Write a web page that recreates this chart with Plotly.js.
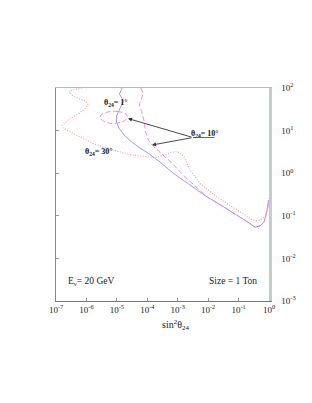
<!DOCTYPE html>
<html>
<head>
<meta charset="utf-8">
<script src="https://cdn.plot.ly/plotly-3.0.1.min.js"></script>
<style>html,body{margin:0;padding:0;background:#fff;}#chart{width:312px;height:403px;}</style>
</head>
<body>
<div id="chart"></div>
<script>
// theta24 = 1 deg (solid blue)
const blueX = [1.48e-5, 1.22e-5, 1.65e-5, 1.27e-5, 9.7e-6, 9.7e-6, 1.17e-5, 1.72e-5, 2.92e-5, 5.75e-5, 1.08e-4, 2.62e-4, 7.16e-4, 2.54e-3, 8.95e-3, 3.15e-2, 0.111, 0.237, 0.347, 0.506, 0.686, 0.879, 0.964];
const blueY = [100, 72.3, 49.5, 32.1, 22.0, 15.9, 11.5, 7.89, 5.55, 3.91, 2.93, 1.83, 0.995, 0.528, 0.281, 0.164, 0.0938, 0.0659, 0.0537, 0.0577, 0.0714, 0.137, 0.235];
// theta24 = 10 deg (dashed magenta), main branch
const magX = [6.07e-5, 7.40e-5, 6.21e-5, 5.46e-5, 6.55e-5, 7.98e-5, 8.73e-5, 1.08e-4, 1.43e-4, 2.08e-4, 3.28e-4, 6.49e-4, 1.49e-3, 3.70e-3, 8.95e-3, 3.15e-2, 0.111, 0.237, 0.347, 0.506, 0.686, 0.879, 0.964];
const magY = [100, 75.2, 52.2, 39.9, 27.8, 16.2, 9.42, 6.01, 4.59, 3.51, 2.67, 1.73, 0.908, 0.501, 0.281, 0.164, 0.0938, 0.0659, 0.0537, 0.0577, 0.0714, 0.137, 0.235];
// theta24 = 10 deg, small closed island
const loopX = [2.00e-5, 1.09e-5, 5.12e-6, 3.01e-6, 2.79e-6, 3.78e-6, 6.92e-6, 1.27e-5, 2.00e-5, 2.24e-5, 2.00e-5];
const loopY = [24.5, 28.1, 27.4, 23.2, 19.8, 16.4, 14.7, 15.5, 18.2, 21.4, 24.5];
// theta24 = 30 deg (dotted red)
const redX = [7.14e-7, 3.36e-7, 2.67e-7, 4.21e-7, 8.98e-7, 1.13e-6, 9.68e-7, 5.28e-7, 2.48e-7, 1.61e-7, 1.70e-7, 2.88e-7, 6.15e-7, 1.77e-6, 7.46e-6, 2.15e-5, 5.75e-5, 2.04e-4, 4.45e-4, 8.15e-4, 1.19e-3, 1.61e-3, 2.53e-3, 5.40e-3, 1.91e-2, 8.67e-2, 0.237, 0.347, 0.506, 0.738, 0.948, 1.0];
const redY = [100, 89.7, 78.3, 61.5, 49.5, 42.1, 34.0, 24.5, 17.7, 13.2, 11.5, 9.27, 7.08, 4.84, 3.60, 2.82, 2.54, 2.34, 2.82, 3.23, 3.06, 2.40, 1.19, 0.579, 0.281, 0.137, 0.0873, 0.0755, 0.0796, 0.0953, 0.179, 0.263];

const xTickVals = [1e-7, 1e-6, 1e-5, 1e-4, 1e-3, 1e-2, 1e-1, 1];
const xTickText = ['10<sup>-7</sup>', '10<sup>-6</sup>', '10<sup>-5</sup>', '10<sup>-4</sup>', '10<sup>-3</sup>', '10<sup>-2</sup>', '10<sup>-1</sup>', '10<sup>0</sup>'];
const yTickVals = [1e-3, 1e-2, 1e-1, 1, 10, 100];
const yTickText = ['10<sup>-3</sup>', '10<sup>-2</sup>', '10<sup>-1</sup>', '10<sup>0</sup>', '10<sup>1</sup>', '10<sup>2</sup>'];

const serif = 'Liberation Serif, Times New Roman, serif';
const tickFont = {family: serif, size: 9, color: '#222'};

const traces = [
  {x: redX, y: redY, mode: 'lines', line: {color: '#ffa0a0', width: 1.1, dash: '1px,1.6px'}, showlegend: false, hoverinfo: 'skip'},
  {x: blueX, y: blueY, mode: 'lines', line: {color: '#9090ff', width: 0.9}, showlegend: false, hoverinfo: 'skip'},
  {x: magX, y: magY, mode: 'lines', line: {color: '#f47cf4', width: 0.9, dash: '5px,2.5px'}, showlegend: false, hoverinfo: 'skip'},
  {x: loopX, y: loopY, mode: 'lines', line: {color: '#f47cf4', width: 0.9, dash: '5px,2.5px', shape: 'spline'}, showlegend: false, hoverinfo: 'skip'},
  {x: [], y: [], xaxis: 'x2', yaxis: 'y2', showlegend: false, hoverinfo: 'skip'}
];

const lg = Math.log10;
const layout = {
  width: 312, height: 403,
  margin: {l: 56, r: 43, t: 88, b: 102},
  paper_bgcolor: '#fff', plot_bgcolor: '#fff',
  showlegend: false,
  xaxis: {type: 'log', range: [-7, 0], showgrid: false, zeroline: false,
    showline: true, linecolor: '#777', linewidth: 1,
    ticks: 'inside', ticklen: 3, tickcolor: '#999',
    tickvals: xTickVals, ticktext: xTickText, tickfont: tickFont},
  xaxis2: {type: 'log', range: [-7, 0], overlaying: 'x', side: 'top', showgrid: false, zeroline: false,
    showline: true, linecolor: '#b4bcbc', linewidth: 1.5, ticks: '', showticklabels: false},
  yaxis: {type: 'log', range: [-3, 2], showgrid: false, zeroline: false,
    showline: true, linecolor: '#888', linewidth: 1,
    ticks: 'inside', ticklen: 3, tickcolor: '#999',
    tickvals: yTickVals, showticklabels: false},
  yaxis2: {type: 'log', range: [-3, 2], overlaying: 'y', side: 'right', showgrid: false, zeroline: false,
    showline: true, linecolor: '#c4cccc', linewidth: 2.5, ticks: '',
    tickvals: yTickVals, ticktext: yTickText, tickfont: tickFont, ticklabelstandoff: 8},
  annotations: [
    {x: 0.563, y: -0.113, xref: 'paper', yref: 'paper', xanchor: 'center', yanchor: 'middle', showarrow: false,
      text: 'sin<sup>2</sup>θ<sub>24</sub>', font: {family: serif, size: 10, color: '#222'}},
    {x: lg(9.4e-6), y: lg(43.3), text: '<b>θ<sub>24</sub>= 1°</b>', showarrow: false,
      font: {family: serif, size: 8, color: '#111'}},
    {x: lg(7.59e-3), y: lg(8.55), text: '<b>θ<sub>24</sub>= 10°</b>', showarrow: false,
      font: {family: serif, size: 8, color: '#111'}},
    {x: lg(2.59e-6), y: lg(3.23), text: '<b>θ<sub>24</sub>= 30°</b>', showarrow: false,
      font: {family: serif, size: 8, color: '#111'}},
    {x: lg(2.32e-5), y: lg(19.2), text: '', showarrow: true, arrowhead: 2, arrowsize: 0.9, arrowwidth: 0.9,
      arrowcolor: '#333', ax: 65, ay: 19},
    {x: lg(1.43e-4), y: lg(4.59), text: '', showarrow: true, arrowhead: 2, arrowsize: 0.9, arrowwidth: 0.9,
      arrowcolor: '#333', ax: 41, ay: -7.5},
    {x: lg(3.18e-3), y: lg(6.89), text: '', showarrow: true, arrowhead: 0, arrowwidth: 0.9,
      arrowcolor: '#555', ax: 23, ay: 0},
    {x: lg(1.52e-6), y: lg(2.94e-3), text: 'E<sub>ν</sub>= 20 GeV', showarrow: false,
      font: {family: serif, size: 9.5, color: '#222'}},
    {x: lg(0.0681), y: lg(2.94e-3), text: 'Size = 1 Ton', showarrow: false,
      font: {family: serif, size: 9.5, color: '#222'}}
  ]
};

Plotly.newPlot('chart', traces, layout, {staticPlot: true, displayModeBar: false});
</script>
</body>
</html>
